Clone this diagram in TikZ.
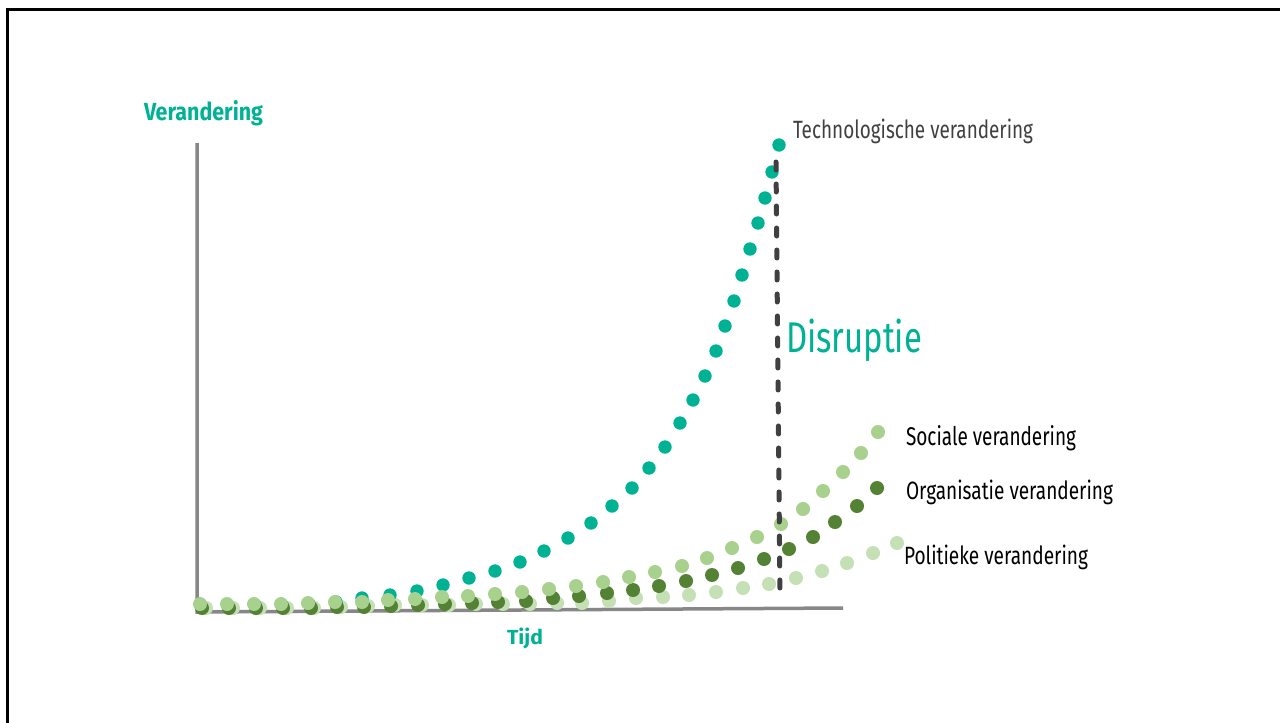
\documentclass[tikz,border=0pt]{standalone}
\usepackage{fontspec}
\setmainfont{Fira Sans}
\usepackage{graphicx}
\definecolor{teal1}{HTML}{00B294}
\definecolor{dgreen}{HTML}{548235}
\definecolor{lgreen}{HTML}{A9D18E}
\definecolor{pgreen}{HTML}{C5E0B4}
\definecolor{dgray}{HTML}{404040}
\definecolor{axisgray}{HTML}{878787}
\newcommand{\fitbox}[3]{\resizebox{#1pt}{#2pt}{#3}}
\tikzset{
  lbl/.style={anchor=base west, inner sep=0pt, outer sep=0pt},
  axisline/.style={draw=axisgray, line width=3.5pt},
  disrline/.style={draw=dgray, line width=5pt, line cap=round, dash pattern=on 8pt off 14pt},
  framel/.style={draw=black, line width=3pt},
}
\begin{document}
\begin{tikzpicture}[x=1pt,y=-1pt]
\useasboundingbox (0,0) rectangle (1280,723);
\fill[white] (0,0) rectangle (1280,723);
% frame (left and top visible)
\coordinate (fc) at (7.5,9.5);
\coordinate (fr) at (1280,9.5);
\coordinate (fb) at (7.5,723);
\draw[framel] (fb) -- (fc) -- (fr);
% axes
\coordinate (ytop) at (197,143);
\coordinate (orig) at (197,612);
\coordinate (xend) at (843,608);
\draw[axisline] (ytop) -- (orig) -- (xend);
% pale green: politieke
\foreach \x/\y in {206/608,233/608,260/608,287/608,314/608,341/607,368/606,395/605,422/605,449/605,476/604,503/604,530/604,557/603,582/603,609/601,636/598,663/597,689/595,716/592,743/588,769/584,796/578,822/571,847/563,873/553,897/543}
  \fill[pgreen] (\x,\y) circle (7);
% teal: technologische
\foreach \x/\y in {201/606,228/606,255/605,282/605,309/604,336/602,362/598,390/595,417/591,443/585,469/578,495/571,520/562,544/551,568/538,591/523,612/506,632/488,649/468,665/447,680/423,693/400,705/376,716/351,725/326,734/301,742/275,750/249,758/223,765/198,772/172,779/145}
  \fill[teal1] (\x,\y) circle (6.7);
% dark green: organisatie
\foreach \x/\y in {202/608,229/608,256/608,283/608,311/608,337/607,364/607,391/606,418/605,445/604,472/603,498/602,526/601,553/598,579/596,607/593,633/590,659/586,686/581,712/575,738/568,764/559,789/549,813/537,835/522,857/506,877/488}
  \fill[dgreen] (\x,\y) circle (7);
% light green: sociale
\foreach \x/\y in {200/604,227/604,254/604,281/604,308/603,335/602,362/602,388/600,415/599,442/597,468/596,495/594,522/592,549/589,576/586,603/582,629/577,655/572,682/566,707/558,732/548,757/537,781/524,803/509,823/491,843/472,861/453,878/432}
  \fill[lgreen] (\x,\y) circle (7);
% disruption line
\coordinate (dtop) at (776,162);
\coordinate (dbot) at (780,598);
\draw[disrline] (dtop) -- (dbot);
% labels
\node[lbl, text=teal1] (yl) at (144,120) {\fitbox{119}{20}{\bfseries Verandering}};
\node[lbl, text=teal1] (xl) at (507,644) {\fitbox{36}{16.5}{\bfseries Tijd}};
\node[lbl, text=dgray] (tech) at (793,138) {\fitbox{240}{19.5}{Technologische verandering}};
\node[lbl, text=teal1] (disr) at (786,352) {\fitbox{136}{33.5}{Disruptie}};
\node[lbl, text=black] (soc) at (906,445) {\fitbox{170}{20}{Sociale verandering}};
\node[lbl, text=black] (org) at (906,499.5) {\fitbox{207}{19.5}{Organisatie verandering}};
\node[lbl, text=black] (pol) at (904,564.5) {\fitbox{184}{19.5}{Politieke verandering}};
\end{tikzpicture}
\end{document}
